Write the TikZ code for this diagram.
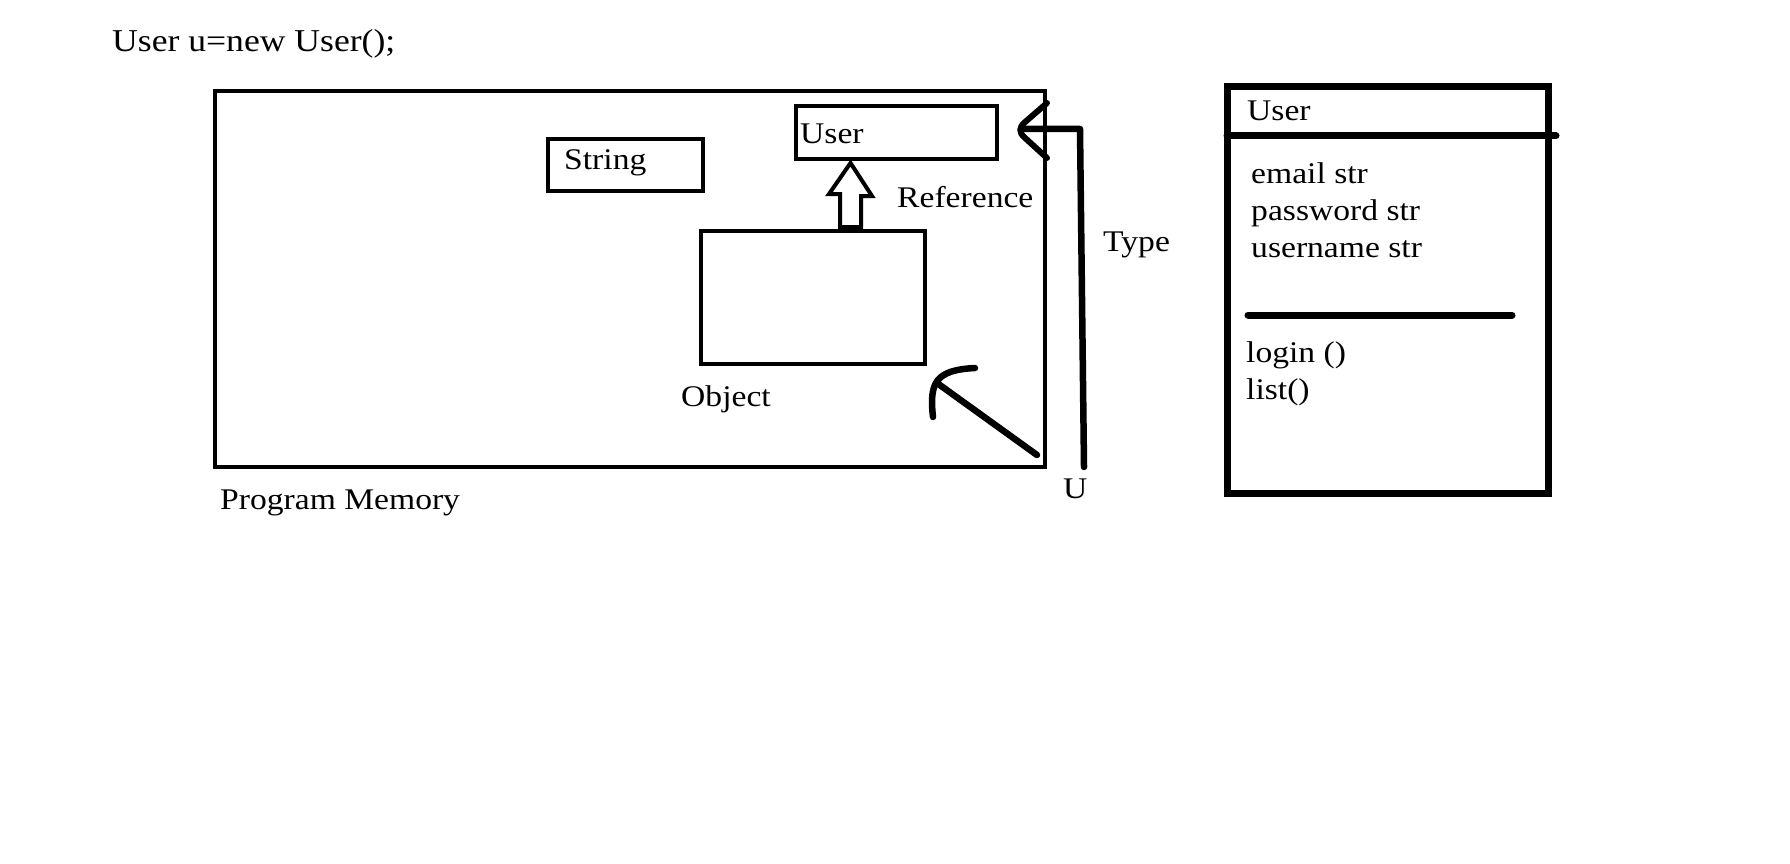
\documentclass[tikz,border=0pt]{standalone}
\usepackage{fontspec}
\setmainfont{Liberation Serif}[FakeStretch=1.12]
\usetikzlibrary{calc}
\begin{document}
\begin{tikzpicture}[x=1pt,y=-1pt,
  txt/.style={inner sep=0pt,anchor=base west,font=\fontsize{30}{36}\selectfont},
  box/.style={draw,line width=4pt,inner sep=0pt},
  umlbox/.style={draw,line width=7pt,inner sep=0pt},
  pen/.style={line width=6.5pt,line cap=round,line join=round},
  hollow/.style={draw,line width=4pt,line join=miter}]
\useasboundingbox (0,0) rectangle (1790,864);
\fill[white] (0,0) rectangle (1790,864);
% code line
\node[txt,font=\fontsize{31.8}{38}\selectfont] (code) at (112,52) {User u=new User();};
% program memory
\node[box,minimum width=830pt,minimum height=376pt] (pm) at (630,279) {};
\node[txt] (pmlbl) at (220,509) {Program Memory};
% string box
\node[box,minimum width=155pt,minimum height=52pt] (strbox) at (625.5,165) {};
\node[txt] (strlbl) at (564,169) {String};
% user reference box
\node[box,minimum width=201pt,minimum height=53pt] (userbox) at (896.5,132.5) {};
\node[txt] (userlbl) at (800,143) {User};
% object box
\node[box,minimum width=224pt,minimum height=133pt] (objbox) at (813,297.5) {};
\node[txt] (objlbl) at (681,406) {Object};
\node[txt] (reflbl) at (897,207) {Reference};
% hollow arrow object -> user
\coordinate (ha) at (objbox.north -| 850.5,0);
\draw[hollow] ($(ha)+(-10.5,-2)$) -- ++(0,-33) -- ++(-11,0) -- (850.5,163) -- (872,196) -- (861,196) -- ($(ha)+(10.5,-2)$) -- cycle;
% black arrow
\coordinate (bstart) at (1037,455);
\coordinate (btip) at (937,383);
\draw[pen] (bstart) -- (btip);
\draw[pen] (933,417) .. controls (929,382) and (936,370) .. (975,368);
% type connector
\node[txt] (ulbl) at (1063,498) {U};
\node[txt] (typelbl) at (1103,251) {Type};
\coordinate (tstart) at (1084,467);
\coordinate (tcorner) at (1080,129);
\coordinate (tend) at (1021,129);
\draw[pen] (tstart) -- (tcorner) -- (tend);
\draw[pen,line width=6pt] (1047,103) -- (1024,123) .. controls (1019,128) and (1019,132) .. (1024,137) -- (1047,158);
% UML class
\node[umlbox,minimum width=321pt,minimum height=406pt] (uml) at (1387.5,290) {};
\coordinate (hl) at (1227,136);
\coordinate (hr) at (1556,136);
\draw[line width=7pt,line cap=round] (hl) -- (hr);
\node[txt] (umlname) at (1247,121) {User};
\node[txt] (a1) at (1251,183) {email str};
\node[txt] (a2) at (1251,220) {password str};
\node[txt] (a3) at (1251,257) {username str};
\coordinate (sl) at (1248,315);
\coordinate (sr) at (1512,315);
\draw[line width=7pt,line cap=round] (sl) -- (sr);
\node[txt] (m1) at (1246,362) {login ()};
\node[txt] (m2) at (1246,399) {list()};
\end{tikzpicture}
\end{document}
